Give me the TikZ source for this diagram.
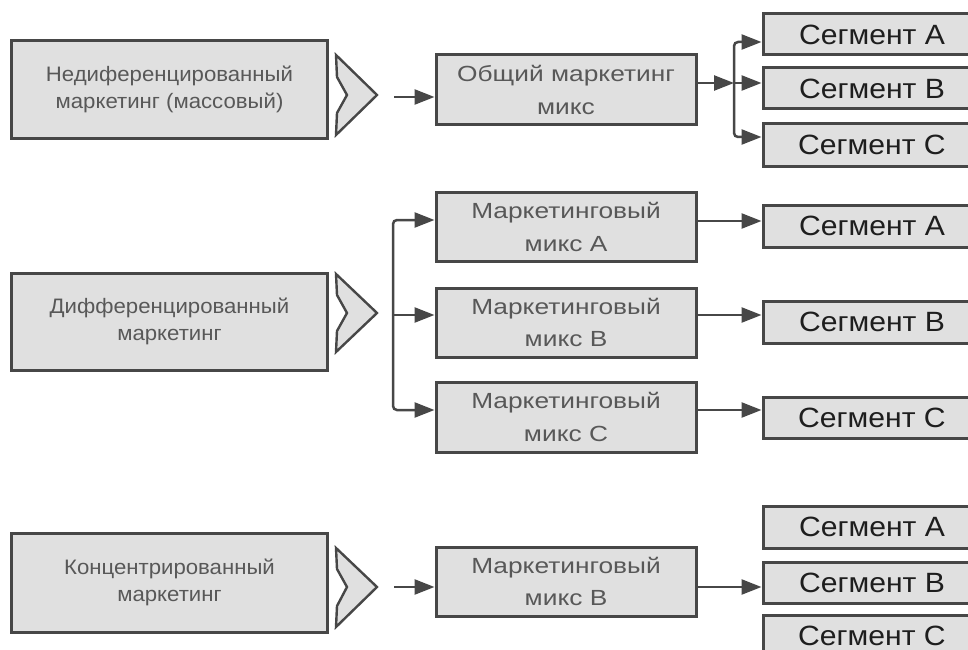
\documentclass[tikz,border=0pt]{standalone}
\usepackage{fontspec}
\setmainfont{Liberation Sans}
\newfontfamily\lfont[FakeStretch=1.06]{Liberation Sans}
\newfontfamily\mfont[FakeStretch=1.2]{Liberation Sans}
\newfontfamily\sfont[FakeStretch=1.08]{Liberation Sans}
\usetikzlibrary{arrows.meta}
\definecolor{boxfill}{HTML}{E0E0E0}
\definecolor{boxline}{HTML}{474747}
\definecolor{txtgray}{HTML}{585858}
\definecolor{txtdark}{HTML}{1E1E1E}
\begin{document}
\begin{tikzpicture}[x=1bp,y=-1bp,
 box/.style={draw=boxline,fill=boxfill,line width=3bp,inner sep=0pt,anchor=center,align=center},
 leftbox/.style={box,minimum width=315bp,minimum height=97bp,font=\lfont\fontsize{21}{27}\selectfont,text=txtgray},
 mixbox/.style={box,minimum width=260bp,minimum height=69bp,font=\mfont\fontsize{22}{33}\selectfont,text=txtgray},
 segbox/.style={box,minimum width=218bp,minimum height=41bp,font=\sfont\fontsize{28}{30}\selectfont,text=txtdark},
 chev/.style={draw=boxline,fill=boxfill,line width=2.4bp,line join=miter},
 conn/.style={draw=boxline,line width=2.5bp,-{Triangle[length=20bp,width=15bp]}},
 trunk/.style={conn,rounded corners=4bp}]
\useasboundingbox (0,0) rectangle (968,650);
\clip (0,0) rectangle (968,650);

% ---- row 1
\node[leftbox] (L1) at (169.5,89.5) {Недиференцированный\\маркетинг (массовый)};
\draw[chev,shift={(336,55)}] (0,0) -- (41,40) -- (0,80) -- (1,58) -- (11,40) -- (1,22) -- cycle;
\node[mixbox,minimum height=70bp] (M1) at (566,90) {Общий маркетинг\\микс};
\node[segbox] (S1A) at (872,34.5) {Сегмент А};
\node[segbox] (S1B) at (872,88.5) {Сегмент В};
\node[segbox,minimum height=42bp] (S1C) at (872,145) {Сегмент С};
\coordinate (a1) at (394,97);
\draw[conn] (a1) -- (M1.west |- a1);
\coordinate (j1) at (734,83);
\coordinate (t1) at (734,42);
\coordinate (b1) at (734,137);
\draw[conn] (M1.east |- j1) -- (j1);
\draw[trunk] (j1) |- (S1A.west |- t1);
\draw[conn] (j1) -- (S1B.west |- j1);
\draw[trunk] (j1) |- (S1C.west |- b1);

% ---- row 2
\node[leftbox] (L2) at (169.5,321.5) {Дифференцированный\\маркетинг};
\draw[chev,shift={(336,274)}] (0,0) -- (41,39) -- (0,78) -- (1,57) -- (11,39) -- (1,21) -- cycle;
\node[mixbox,minimum height=68bp] (MA) at (566,227) {Маркетинговый\\микс А};
\node[mixbox] (MB) at (566,322.5) {Маркетинговый\\микс В};
\node[mixbox,minimum height=70bp] (MC) at (566,417) {Маркетинговый\\микс С};
\node[segbox,minimum height=42bp] (S2A) at (872,226) {Сегмент А};
\node[segbox,minimum height=42bp] (S2B) at (872,322) {Сегмент В};
\node[segbox] (S2C) at (872,417.5) {Сегмент С};
\coordinate (j2) at (393,315);
\coordinate (t2) at (393,220);
\coordinate (b2) at (393,410);
\draw[trunk] (j2) |- (MA.west |- t2);
\draw[conn] (j2) -- (MB.west |- j2);
\draw[trunk] (j2) |- (MC.west |- b2);
\coordinate (r2a) at (700,221);
\coordinate (r2b) at (700,315);
\coordinate (r2c) at (700,410);
\draw[conn] (MA.east |- r2a) -- (S2A.west |- r2a);
\draw[conn] (MB.east |- r2b) -- (S2B.west |- r2b);
\draw[conn] (MC.east |- r2c) -- (S2C.west |- r2c);

% ---- row 3
\node[leftbox,minimum height=99bp] (L3) at (169.5,582.5) {Концентрированный\\маркетинг};
\draw[chev,shift={(336,548)}] (0,0) -- (41,39) -- (0,79) -- (1,58) -- (11,39) -- (1,21) -- cycle;
\node[mixbox] (M3) at (566,581.5) {Маркетинговый\\микс В};
\node[segbox,minimum height=42bp] (S3A) at (872,527) {Сегмент А};
\node[segbox] (S3B) at (872,582.5) {Сегмент В};
\node[segbox,minimum height=42bp] (S3C) at (872,636) {Сегмент С};
\coordinate (a3) at (394,587);
\draw[conn] (a3) -- (M3.west |- a3);
\coordinate (r3) at (700,587);
\draw[conn] (M3.east |- r3) -- (S3B.west |- r3);
\end{tikzpicture}
\end{document}
